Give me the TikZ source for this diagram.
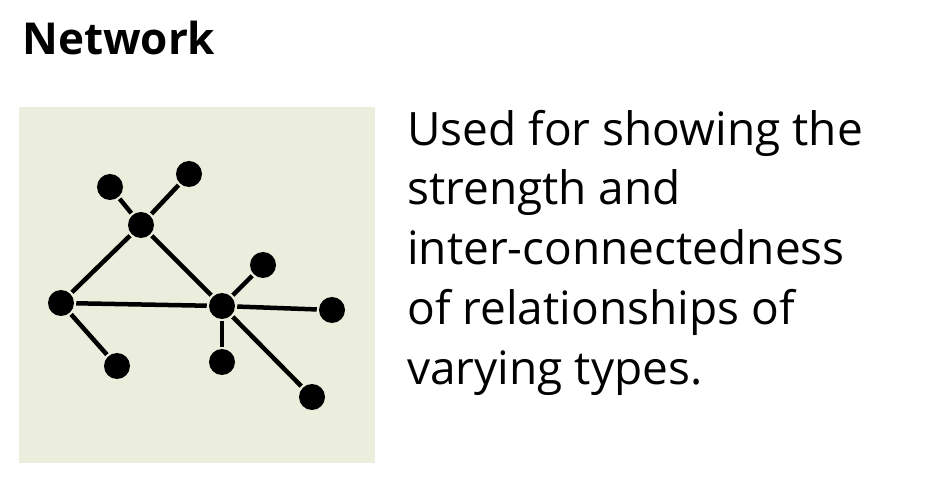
\documentclass[tikz,border=0pt]{standalone}
\usepackage{fontspec}
\setmainfont{Open Sans}
\usetikzlibrary{positioning}
\definecolor{netbg}{RGB}{236,238,221}

\begin{document}
\begin{tikzpicture}[x=1pt,y=-1pt,line width=4.5pt]
\tikzstyle{dot}=[circle,fill=black,inner sep=0pt,minimum size=26pt]
\useasboundingbox (0,0) rectangle (940,502);
\node[anchor=base west,inner sep=0pt,font=\fontsize{44}{50}\selectfont\bfseries] (title) at (20,55) {Network};
\fill[netbg] (19,107) rectangle (375,463);
\node[dot] (A) at (110,187) {};
\node[dot] (B) at (189,174) {};
\node[dot] (C) at (141,225) {};
\node[dot] (D) at (61,303)  {};
\node[dot] (E) at (117,366) {};
\node[dot] (F) at (222,306) {};
\node[dot] (G) at (263,265) {};
\node[dot] (H) at (332,310) {};
\node[dot] (I) at (222,362) {};
\node[dot] (J) at (312,397) {};
\path
(C) edge (A)
    edge (B)
    edge (D)
    edge (F)
(D) edge (F)
    edge (E)
(F) edge (G)
    edge (H)
    edge (I)
    edge (J);
\node[anchor=base west,inner sep=0pt,align=left,font=\fontsize{46}{60}\selectfont] (desc) at (405,385)
  {Used for showing the\\strength and\\inter-connectedness\\of relationships of\\varying types.};
\end{tikzpicture}
\end{document}
